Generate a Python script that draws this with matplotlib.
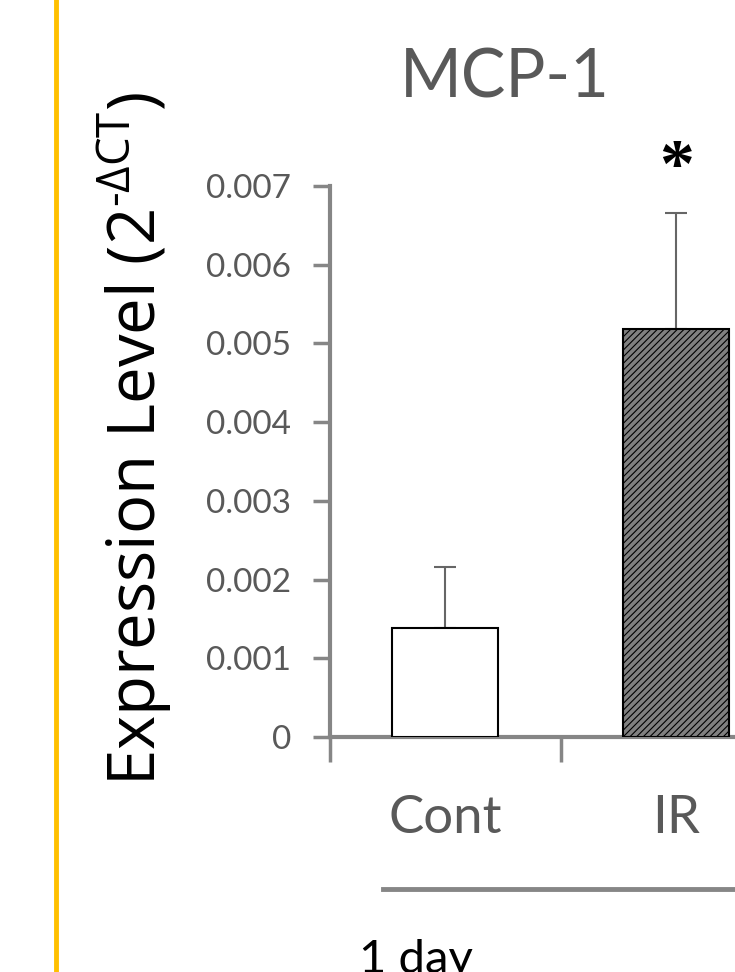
import numpy as np
import matplotlib
matplotlib.use('Agg')
import matplotlib.pyplot as plt
from matplotlib.lines import Line2D

# values
groups = ['Cont', 'IR']
means = [0.00138, 0.00518]
errors = [0.00078, 0.00148]
y_ticks = [0, 0.001, 0.002, 0.003, 0.004, 0.005, 0.006, 0.007]
y_tick_labels = ['0', '0.001', '0.002', '0.003', '0.004', '0.005', '0.006', '0.007']
time_label = '1 day'
title_text = 'MCP-1'

W, H = 735, 972
gray_txt = '#595959'
axis_gray = '#868686'

plt.rcParams['hatch.linewidth'] = 0.8
plt.rcParams['hatch.color'] = 'black'
plt.rcParams['mathtext.fontset'] = 'custom'
plt.rcParams['mathtext.rm'] = 'Open Sans'

fig = plt.figure(figsize=(W / 100, H / 100), dpi=100)

# axes placed in pixel terms (bottom at y=737, 0.007 at y=186)
left_px, right_px = 330, 735
bot_px, top_px = 737, 186
ax = fig.add_axes([left_px / W, 1 - bot_px / H,
                   (right_px - left_px) / W, (bot_px - top_px) / H])

x = np.arange(len(groups))
bars = ax.bar(x, means, width=0.46, edgecolor='black', linewidth=1.5,
              color=['white', '#808080'], zorder=3)
bars[1].set_hatch('/////')

ax.errorbar(x, means, yerr=[[0, 0], errors], fmt='none', ecolor='#666666',
            elinewidth=1.5, capsize=8, capthick=1.5, zorder=2)

ax.set_xlim(-0.5, 1.255)
ax.set_ylim(0, 0.007)
ax.set_yticks(y_ticks)
ax.set_yticklabels(y_tick_labels, fontfamily='Lato', fontsize=24, color=gray_txt)
ax.tick_params(axis='y', direction='out', length=12, width=2.5, color=axis_gray, pad=16)

ax.set_xticks([-0.5, 0.5])
ax.set_xticklabels(['', ''])
ax.tick_params(axis='x', direction='out', length=18, width=2.5, color=axis_gray)

for s in ['top', 'right']:
    ax.spines[s].set_visible(False)
for s in ['left', 'bottom']:
    ax.spines[s].set_color(axis_gray)
    ax.spines[s].set_linewidth(3)

# category labels
for xi, g in zip(x, groups):
    ax.text(xi, -0.00103, g, ha='center', va='center', fontfamily='Lato',
            fontsize=38, color=gray_txt, clip_on=False)

# significance star over IR
ax.text(1, 0.0072, '*', ha='center', va='center', fontsize=50,
        fontfamily='Liberation Serif', fontweight='bold', color='black', clip_on=False)

# title
fig.text(505 / W, 1 - 78 / H, title_text, ha='center', va='center',
         fontfamily='Lato', fontsize=48, color=gray_txt)

# y label
fig.text(135 / W, 1 - 439 / H, r'Expression Level (2$^{\text{-ΔCT}}$)',
         ha='center', va='center', rotation=90, fontfamily='Open Sans',
         fontsize=47, color='black')

# grouping line and time label
fig.add_artist(Line2D([383 / W, 1.0], [1 - 889 / H, 1 - 889 / H],
                      color=axis_gray, linewidth=3.5))
fig.text(416 / W, 1 - 960 / H, time_label, ha='center', va='center',
         fontfamily='Lato', fontsize=34, color='black')

# yellow slide border on the left
fig.add_artist(Line2D([56 / W, 56 / W], [0, 1], color='#FFC000', linewidth=3.5))

fig.savefig('out.png', dpi=100)
